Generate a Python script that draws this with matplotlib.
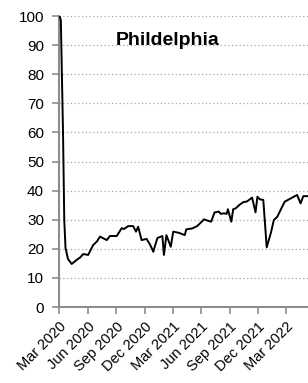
import matplotlib
matplotlib.use("Agg")
import matplotlib.pyplot as plt
import pandas as pd

plt.rcParams['font.family'] = ['Liberation Sans', 'DejaVu Sans']

# values (index, 100 = early March 2020)
dates = ["2020-03-02", "2020-03-06", "2020-03-13", "2020-03-17", "2020-03-21",
         "2020-03-29", "2020-04-10", "2020-04-26", "2020-05-07", "2020-05-17",
         "2020-06-02", "2020-06-18", "2020-06-30", "2020-07-10", "2020-08-01",
         "2020-08-11", "2020-09-02", "2020-09-18", "2020-09-25", "2020-10-09",
         "2020-10-25", "2020-11-03", "2020-11-10", "2020-11-21", "2020-12-07",
         "2020-12-18", "2020-12-29", "2020-12-31", "2021-01-11", "2021-01-27",
         "2021-02-01", "2021-02-09", "2021-02-23", "2021-03-03", "2021-03-21",
         "2021-04-09", "2021-04-14", "2021-05-03", "2021-05-19", "2021-06-10",
         "2021-07-03", "2021-07-14", "2021-07-28", "2021-08-03", "2021-08-13",
         "2021-08-22", "2021-08-26", "2021-09-06", "2021-09-12", "2021-09-20",
         "2021-10-01", "2021-10-14", "2021-10-27", "2021-11-12", "2021-11-23",
         "2021-11-29", "2021-12-07", "2021-12-18", "2021-12-29", "2022-01-11",
         "2022-01-21", "2022-02-01", "2022-02-17", "2022-02-25", "2022-03-16",
         "2022-04-06", "2022-04-17", "2022-04-26", "2022-05-09"]
values = [100, 98.5, 60, 30, 20.3,
          16.5, 14.8, 16.2, 17.0, 18.2,
          17.9, 21.3, 22.5, 24.2, 23.0,
          24.4, 24.4, 27.1, 26.8, 27.8,
          27.8, 25.9, 27.6, 23.0, 23.4,
          21.5, 19.0, 19.9, 23.7, 24.4,
          17.9, 24.7, 20.7, 25.9, 25.5,
          24.7, 26.7, 27.0, 27.8, 30.1,
          29.3, 32.5, 32.8, 32.0, 32.2,
          32.0, 33.6, 29.3, 33.6, 33.9,
          35.0, 36.0, 36.3, 37.6, 32.5,
          37.9, 37.0, 36.8, 20.5, 25.3,
          29.9, 31.0, 34.5, 36.2, 37.3,
          38.5, 35.6, 38.1, 38.1]
title = "Phildelphia"
tick_dates = ["2020-03-01", "2020-06-01", "2020-09-01", "2020-12-01", "2021-03-01",
              "2021-06-01", "2021-09-01", "2021-12-01", "2022-03-01"]
tick_labels = ["Mar 2020", "Jun 2020", "Sep 2020", "Dec 2020", "Mar 2021",
               "Jun 2021", "Sep 2021", "Dec 2021", "Mar 2022"]

x = pd.to_datetime(dates)

fig = plt.figure(figsize=(3.08, 3.83), dpi=100)
ax = fig.add_axes([0.1925, 0.1984, 0.8075, 0.7598])

ax.plot(x, values, color='black', linewidth=1.4, zorder=3)

ax.set_ylim(0, 100)
ax.set_yticks(range(0, 101, 10))
ax.set_xlim(pd.Timestamp("2020-03-01"), pd.Timestamp("2022-05-11"))
ax.set_xticks(pd.to_datetime(tick_dates))
ax.set_xticklabels(tick_labels, rotation=45, ha='right', rotation_mode='anchor')

# dotted horizontal gridlines
ax.yaxis.grid(True, linestyle=(0, (1, 2)), color='#a8a8a8', linewidth=0.9)
ax.set_axisbelow(True)

for s in ['top', 'right']:
    ax.spines[s].set_visible(False)
for s in ['left', 'bottom']:
    ax.spines[s].set_color('#8c8c8c')
    ax.spines[s].set_linewidth(1.5)

ax.tick_params(axis='y', colors='#8c8c8c', length=5, width=1.2, labelsize=11,
               labelcolor='black', pad=6)
ax.tick_params(axis='x', colors='#8c8c8c', length=5, width=1.2, labelsize=10.5,
               labelcolor='black', pad=4)

fig.text(0.545, 0.8825, title, fontsize=14, fontweight='bold', ha='center', va='baseline')

fig.savefig("out.png", dpi=100)
